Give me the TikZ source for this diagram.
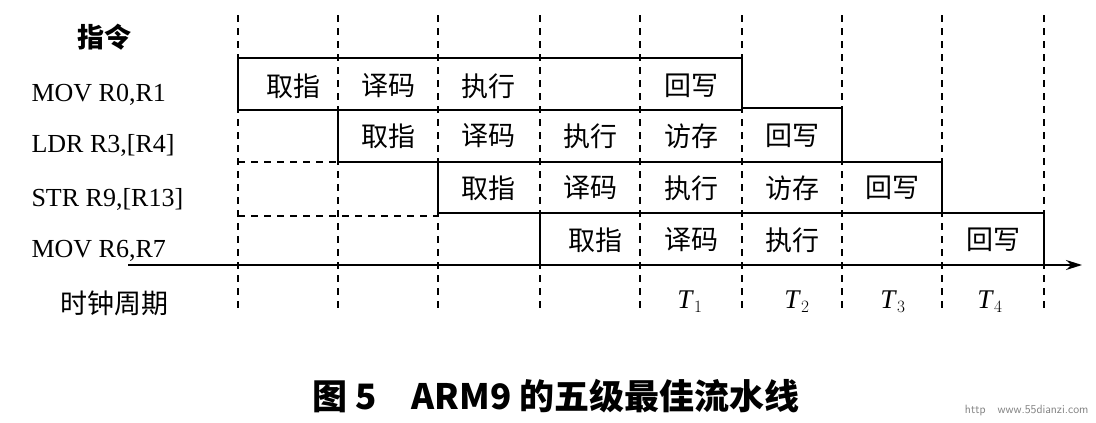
\documentclass[tikz,border=0pt]{standalone}
\usepackage{fontspec}
\setmainfont{Liberation Serif}
\newfontfamily\cjk{Noto Sans CJK SC}
\usetikzlibrary{arrows.meta}
\begin{document}
\begin{tikzpicture}[x=1pt,y=-1pt,
  grid/.style={line width=1.1pt,dash pattern=on 7pt off 6pt},
  stair/.style={line width=1.8pt},
  cell/.style={font=\cjk\fontsize{27}{28}\selectfont},
  lbl/.style={anchor=west,font=\fontsize{26}{28}\selectfont},
  tl/.style={font=\fontsize{27}{28}\selectfont}]
\useasboundingbox (0,0) rectangle (1096,423);
\foreach \x in {238,338,438,540,640,742,842,942,1044}
  \draw[grid] (\x,15) -- (\x,310);
\draw[grid] (238,162) -- (338,162);
\draw[grid] (238,216) -- (438,216);
% staircase
\draw[stair] (238,110) -- (238,58) -- (742,58) -- (742,108) -- (842,108) -- (842,162) -- (942,162) -- (942,213) -- (1044,213) -- (1044,265);
\draw[stair] (238,110) -- (742,110);
\draw[stair] (338,110) -- (338,162) -- (842,162);
\draw[stair] (438,162) -- (438,213) -- (942,213);
\draw[stair] (540,213) -- (540,265);
\coordinate (a0) at (128,265);
\coordinate (a1) at (1082,265);
\draw[stair,-{Stealth[length=16pt,width=10pt]}] (a0) -- (a1);
% labels
\node[font=\cjk\bfseries\fontsize{27}{28}\selectfont] (hd) at (104,37) {指令};
\node[lbl] (r1) at (28,95) {MOV R0,R1};
\node[lbl] (r2) at (28,145) {LDR R3,[R4]};
\node[lbl] (r3) at (28,199) {STR R9,[R13]};
\node[lbl] (r4) at (28,251) {MOV R6,R7};
\node[cell] (clk) at (114,303) {时钟周期};
\node[tl] (t1) at (690,302) {\textit{T}$_1$};
\node[tl] (t2) at (797,302) {\textit{T}$_2$};
\node[tl] (t3) at (893,302) {\textit{T}$_3$};
\node[tl] (t4) at (990,302) {\textit{T}$_4$};
% cells
\foreach \t/\x in {取指/293,译码/388,执行/488,回写/691}
  \node[cell] at (\x,86) {\t};
\foreach \t/\x in {取指/388,译码/488,执行/590,访存/691,回写/792}
  \node[cell] at (\x,136) {\t};
\foreach \t/\x in {取指/488,译码/590,执行/691,访存/792,回写/892}
  \node[cell] at (\x,188) {\t};
\foreach \t/\x in {取指/595,译码/691,执行/792,回写/993}
  \node[cell] at (\x,240) {\t};
\node[font=\cjk\bfseries\fontsize{35}{36}\selectfont] (cap) at (556,396) {图 5\quad ARM9 的五级最佳流水线};
\node[font=\sffamily\fontsize{12}{13}\selectfont,text=gray,anchor=east] (wm) at (1092,410) {http\quad www.55dianzi.com};
\end{tikzpicture}
\end{document}
